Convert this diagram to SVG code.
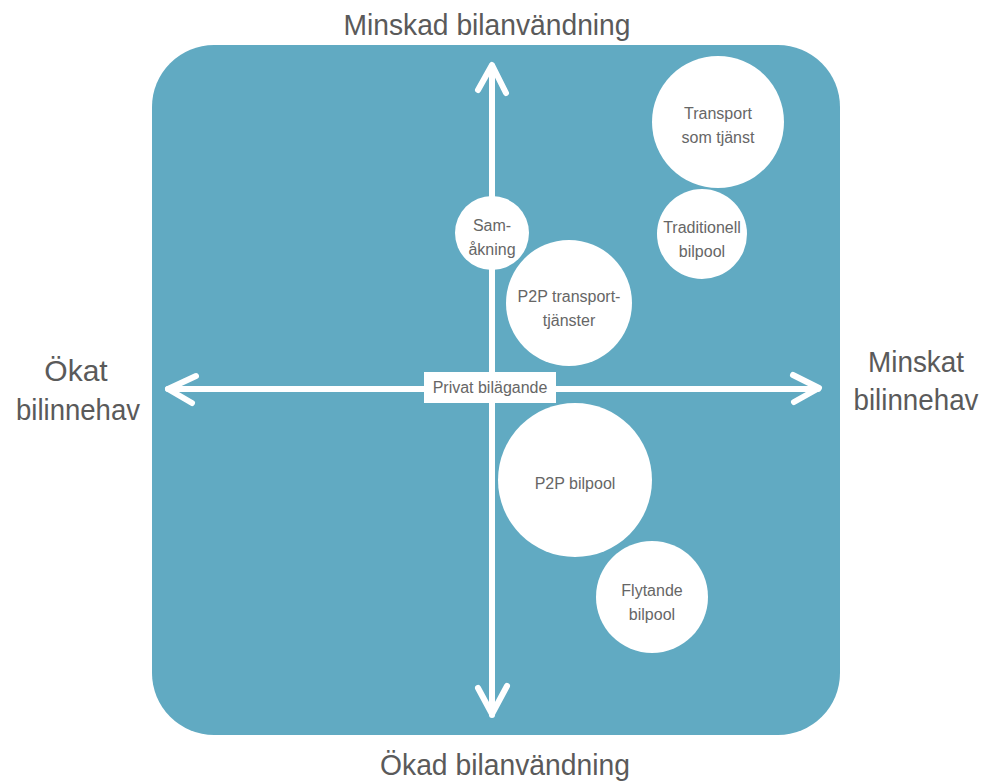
<svg xmlns="http://www.w3.org/2000/svg" width="994" height="781" viewBox="0 0 994 781">
<style>
.axis{font-family:"Liberation Sans",Arial,sans-serif;font-size:30px;fill:#5a5a5a;text-anchor:middle}
.lbl{font-family:"Liberation Sans",Arial,sans-serif;font-size:16px;fill:#666;text-anchor:middle}
.node circle{fill:#fff}
.ln{stroke:#fff;stroke-width:6;stroke-linecap:round;stroke-linejoin:round;fill:none}
</style>
<rect width="994" height="781" fill="#fff"/>
<rect id="bg" x="152" y="45" width="688" height="690" rx="62" fill="#61aac2"/>
<g id="connectors">
<line class="ln" x1="492" y1="66" x2="492" y2="715"/>
<path class="ln" d="M478 90 L492 65 L506 93"/>
<path class="ln" d="M478 688 L492 714 L507 686"/>
<line class="ln" x1="168" y1="389" x2="818" y2="389"/>
<path class="ln" d="M196 376 L168 389 L192 403"/>
<path class="ln" d="M793 375 L819 388 L794 402"/>
</g>
<g id="privat">
<rect x="424" y="372" width="132" height="31" fill="#fff"/>
<text class="lbl" x="490" y="393">Privat bilägande</text>
</g>
<g id="transport" class="node"><circle cx="718" cy="122" r="66"/><text class="lbl" x="718" y="119">Transport</text><text class="lbl" x="718" y="143">som tjänst</text></g>
<g id="traditionell" class="node"><circle cx="702" cy="234" r="45"/><text class="lbl" x="702" y="233">Traditionell</text><text class="lbl" x="702" y="257">bilpool</text></g>
<g id="samakning" class="node"><circle cx="492" cy="233" r="37"/><text class="lbl" x="492" y="231">Sam-</text><text class="lbl" x="492" y="255">åkning</text></g>
<g id="p2ptransport" class="node"><circle cx="569" cy="303" r="63"/><text class="lbl" x="569" y="302">P2P transport-</text><text class="lbl" x="569" y="326">tjänster</text></g>
<g id="p2pbilpool" class="node"><circle cx="575" cy="480" r="77"/><text class="lbl" x="575" y="489">P2P bilpool</text></g>
<g id="flytande" class="node"><circle cx="652" cy="597" r="56"/><text class="lbl" x="652" y="596">Flytande</text><text class="lbl" x="652" y="620">bilpool</text></g>
<g id="axislabels">
<text class="axis" x="487" y="35" textLength="287" lengthAdjust="spacingAndGlyphs">Minskad bilanvändning</text>
<text class="axis" x="505" y="775" textLength="250" lengthAdjust="spacingAndGlyphs">Ökad bilanvändning</text>
<text class="axis" x="76" y="381">Ökat</text>
<text class="axis" x="78" y="420" textLength="124" lengthAdjust="spacingAndGlyphs">bilinnehav</text>
<text class="axis" x="916" y="372" textLength="96" lengthAdjust="spacingAndGlyphs">Minskat</text>
<text class="axis" x="916" y="410" textLength="125" lengthAdjust="spacingAndGlyphs">bilinnehav</text>
</g>
</svg>
